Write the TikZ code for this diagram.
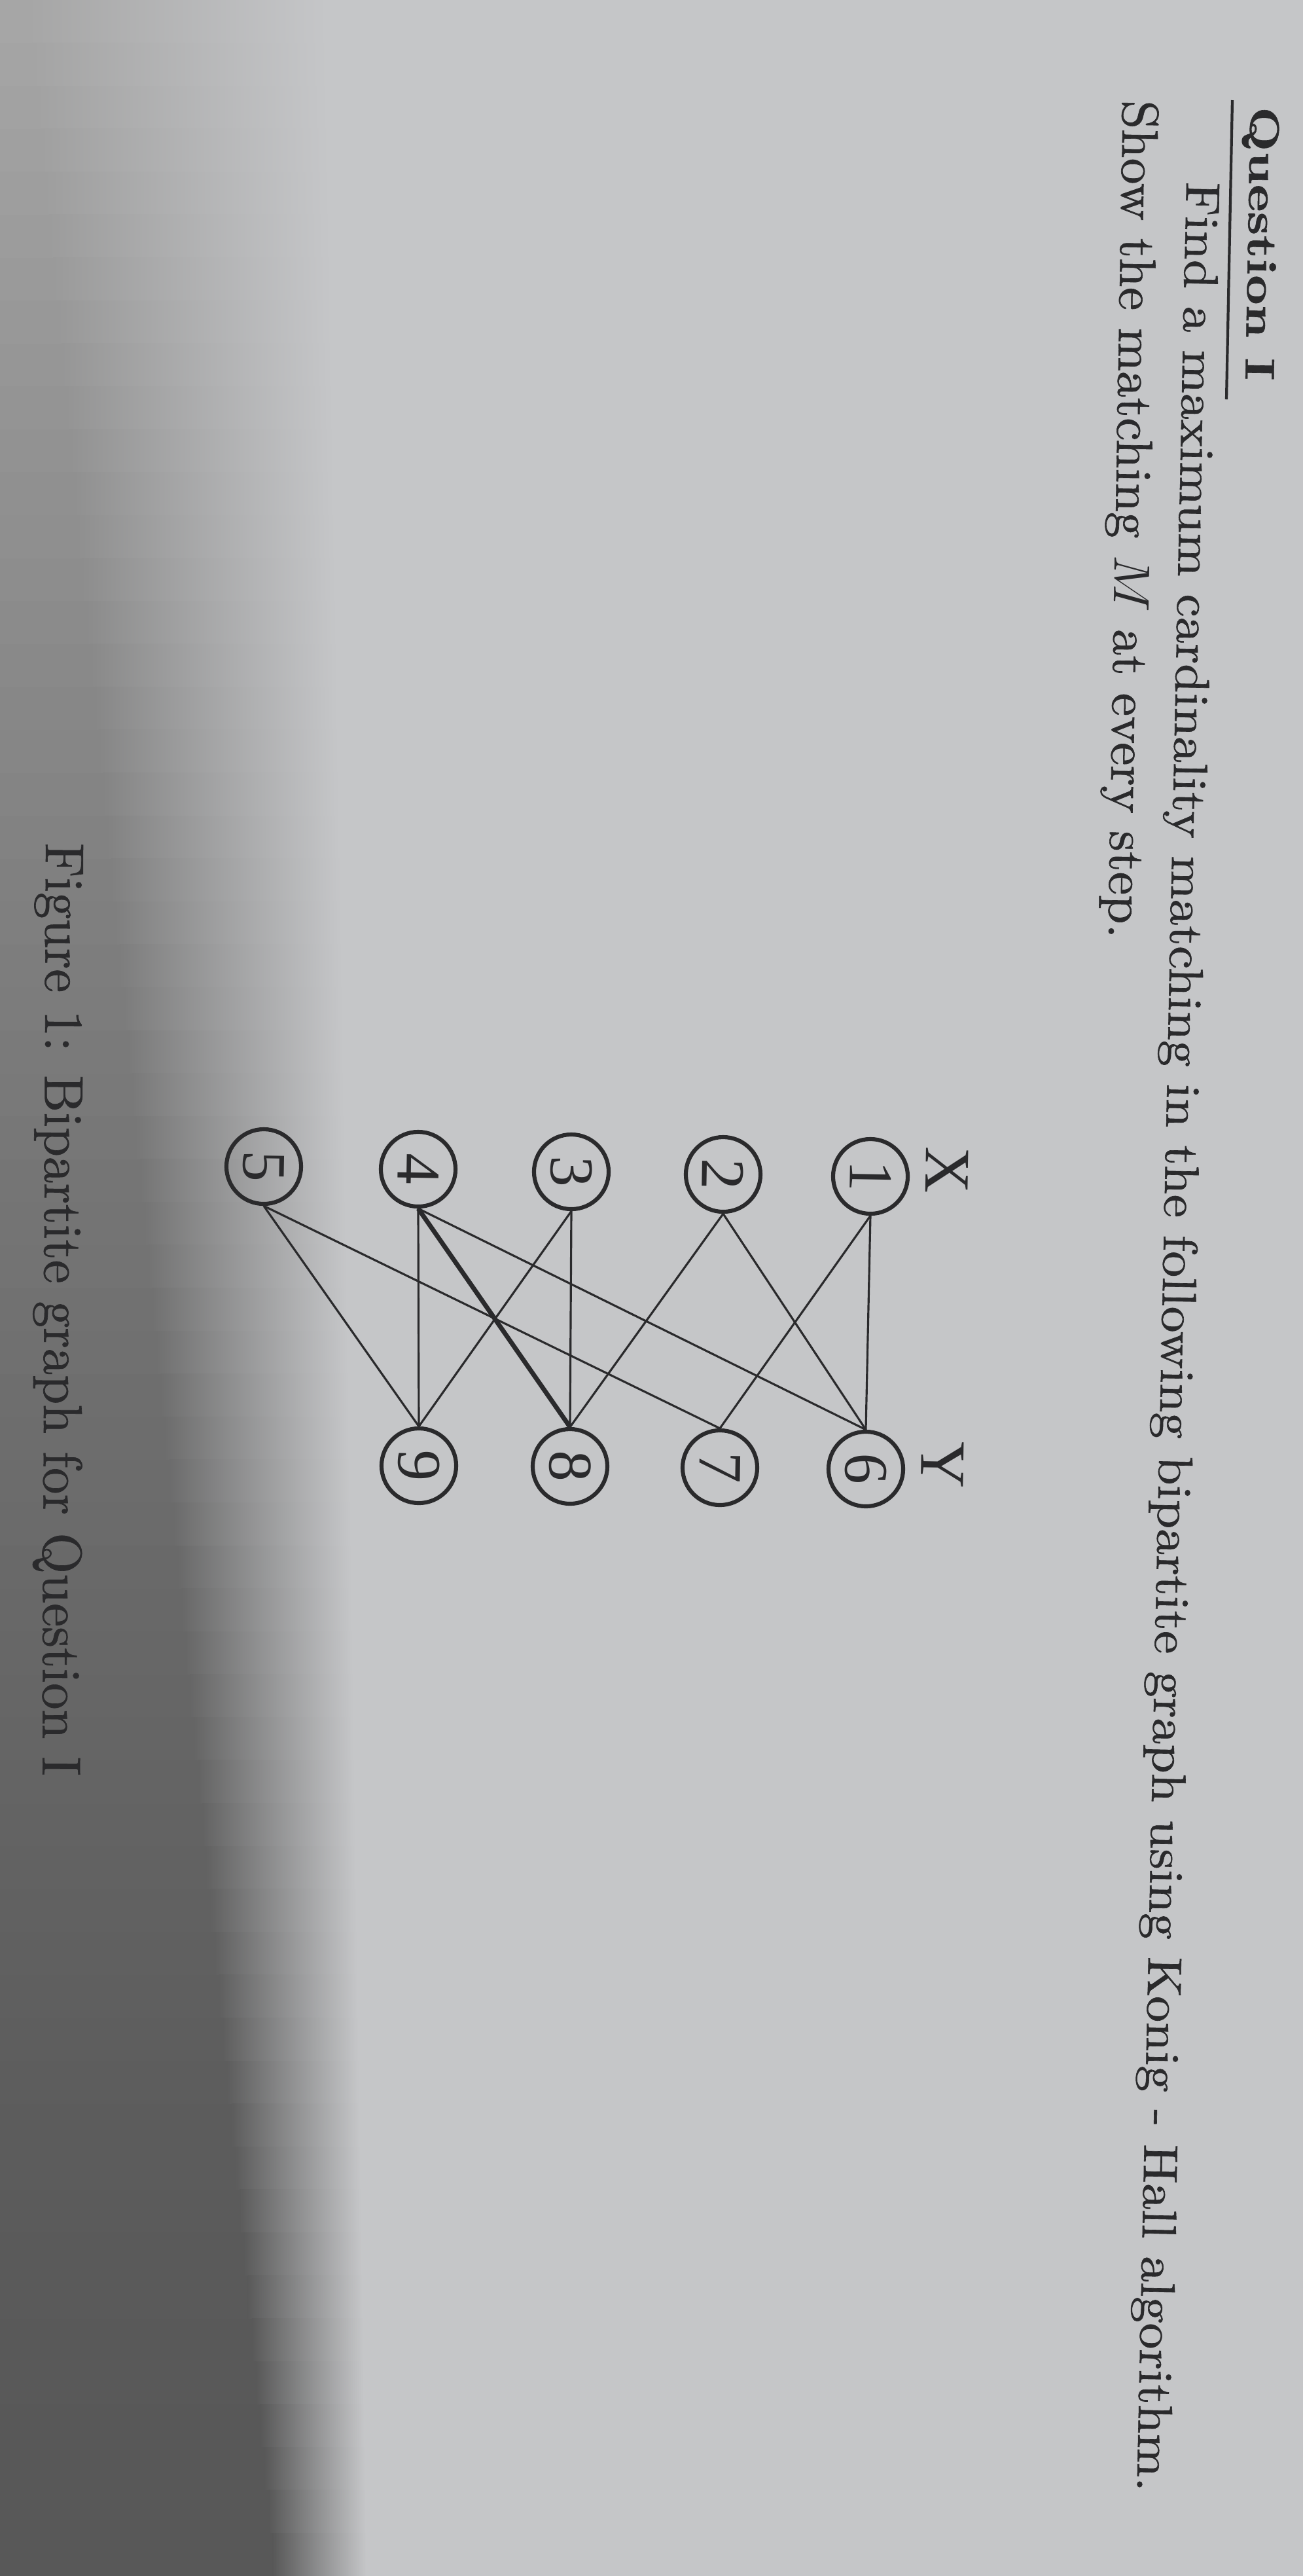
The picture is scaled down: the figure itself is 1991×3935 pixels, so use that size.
\documentclass[tikz,border=0pt]{standalone}
\usepackage{fontspec}
\usepackage{graphicx}
\newfontfamily\gfont{Liberation Serif}
\newfontfamily\heavy{lmroman10-regular.otf}[FakeBold=0.8, BoldFont=lmroman10-bold.otf]
\definecolor{paper}{HTML}{C5C6C8}
\definecolor{ink}{HTML}{2A2A2C}
\begin{document}
\begin{tikzpicture}[x=0.01cm, y=-0.01cm,
  vtx/.style={circle, draw=ink, line width=1.75pt, minimum size=1.14cm, inner sep=0pt,
              font=\gfont\fontsize{27}{30}\selectfont, text=ink},
  edge/.style={draw=ink, line width=0.9pt},
  medge/.style={draw=ink, line width=2pt},
  txt/.style={inner sep=0pt, text=ink, font=\heavy},
  lab/.style={inner sep=0pt, text=ink, font=\gfont\fontsize{28}{30}\selectfont}]
\useasboundingbox (0,0) rectangle (1991,3935);
% paper and shadow
\fill[paper] (0,0) rectangle (1991,3935);
\foreach \i in {0,...,59}{
  \pgfmathsetmacro{\bt}{(\i+0.5)/60}
  \pgfmathtruncatemacro{\gl}{88+80*(1-\bt)^1.6}
  \pgfmathsetmacro{\wa}{40+380*\bt}
  \pgfmathsetmacro{\wb}{500+60*\bt}
  \pgfmathsetmacro{\ya}{\i*65.5833}
  \pgfmathsetmacro{\yb}{\i*65.5833+67.6}
  \definecolor{bandc}{RGB}{\gl,\gl,\gl}
  \fill[bandc] (0,\ya) rectangle (\wa,\yb);
  \shade[left color=bandc, right color=paper] (\wa,\ya) rectangle (\wb,\yb);
}
% text
\node[txt, rotate=-91.1, anchor=base west] (q) at (1911,162)
  {\resizebox{4.18cm}{0.44cm}{\bfseries Question I}};
\coordinate (ua) at (1883,153);
\coordinate (ub) at (1874,610);
\draw[ink, line width=1.2pt] (ua) -- (ub);
\node[txt, rotate=-91.23, anchor=base west] (l1) at (1813,277)
  {\resizebox{35.27cm}{0.52cm}{Find a maximum cardinality matching in the following bipartite graph using Konig - Hall algorithm.}};
\node[txt, rotate=-91.0, anchor=base west] (l2) at (1716,152)
  {\resizebox{12.80cm}{0.55cm}{Show the matching $M$ at every step.}};
\node[txt, rotate=-90.2, anchor=base west] (cap) at (70,1287)
  {\resizebox{14.24cm}{0.59cm}{Figure 1: Bipartite graph for Question I}};
% graph
\node[lab] (lx) at (1447,1788) {\rotatebox{-91}{X}};
\node[lab] (ly) at (1440,2238) {\rotatebox{-91}{Y}};
\node[vtx] (n1) at (1330,1797) {\rotatebox{-91}{1}};
\node[vtx] (n2) at (1105,1794) {\rotatebox{-91}{2}};
\node[vtx] (n3) at (873,1790) {\rotatebox{-91}{3}};
\node[vtx] (n4) at (639,1786) {\rotatebox{-91}{4}};
\node[vtx] (n5) at (403,1782) {\rotatebox{-91}{5}};
\node[vtx] (n6) at (1323,2244) {\rotatebox{-91}{6}};
\node[vtx] (n7) at (1100,2242) {\rotatebox{-91}{7}};
\node[vtx] (n8) at (871,2240) {\rotatebox{-91}{8}};
\node[vtx] (n9) at (640,2239) {\rotatebox{-91}{9}};
\draw[edge] (n1.south) -- (n6.north);
\draw[edge] (n1.south) -- (n7.north);
\draw[edge] (n2.south) -- (n6.north);
\draw[edge] (n2.south) -- (n8.north);
\draw[edge] (n3.south) -- (n8.north);
\draw[edge] (n3.south) -- (n9.north);
\draw[edge] (n4.south) -- (n6.north);
\draw[medge] (n4.south) -- (n8.north);
\draw[edge] (n4.south) -- (n9.north);
\draw[edge] (n5.south) -- (n7.north);
\draw[edge] (n5.south) -- (n9.north);
\end{tikzpicture}
\end{document}
